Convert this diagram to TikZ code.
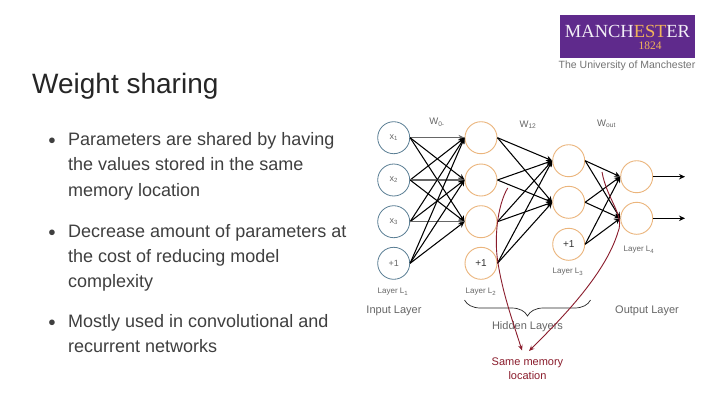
\documentclass[tikz,border=0pt]{standalone}
\usepackage{fontspec}
\setmainfont{Liberation Sans}
\newfontfamily\serifl{Liberation Serif}
\usetikzlibrary{arrows.meta,decorations.pathreplacing,calc}
\definecolor{bodyc}{HTML}{3F3F3F}
\definecolor{inc}{HTML}{5B7F95}
\definecolor{hidc}{HTML}{EBB57C}
\definecolor{redc}{HTML}{8A1C2C}
\definecolor{logoc}{HTML}{5F2A8C}
\definecolor{goldc}{HTML}{F0B45A}
\definecolor{labc}{HTML}{666666}
\tikzset{
 inn/.style={circle,draw=inc,line width=0.8pt,minimum size=32pt,inner sep=0pt,font=\fontsize{9}{10}\selectfont,text=labc},
 hid/.style={circle,draw=hidc,line width=0.9pt,minimum size=32pt,inner sep=0pt,font=\fontsize{10}{11}\selectfont,text=black!80},
 conn/.style={black,line width=1.05pt,-{Stealth[length=6pt,width=5.5pt]}},
 gconn/.style={black!60,line width=1.2pt,-{Stealth[length=6pt,width=5.5pt]}},
 bodytext/.style={anchor=base west,inner sep=0pt,text=bodyc,font=\fontsize{18}{21}\selectfont},
 bul/.style={anchor=base west,inner sep=0pt,text=bodyc,font=\fontsize{13}{16}\selectfont},
 smalllab/.style={inner sep=0pt,text=labc,font=\fontsize{8}{9}\selectfont},
 weightlab/.style={inner sep=0pt,text=labc,font=\fontsize{9.5}{10}\selectfont},
 layerlab/.style={inner sep=0pt,text=black!60,font=\fontsize{11}{13}\selectfont},
 redlab/.style={inner sep=0pt,text=redc,font=\fontsize{11}{13}\selectfont},
 redline/.style={redc,line width=0.9pt},
}
\newcommand{\sbs}[1]{\textsubscript{#1}}
\begin{document}
\begin{tikzpicture}[x=1pt,y=-1pt]
\useasboundingbox[fill=white] (0,0) rectangle (720,405);
% logo
\fill[logoc] (560,15) rectangle (695,58);
\node[inner sep=0pt,font=\serifl\fontsize{18.5}{19}\selectfont,text=white!92!logoc] (logoa) at (627.5,31) {MANCH\textcolor{goldc}{ES\kern-0.3pt T}ER};
\node[inner sep=0pt,font=\serifl\fontsize{11.5}{12}\selectfont,text=goldc] (logob) at (650,46) {1824};
\node[inner sep=0pt,text=black!55,font=\fontsize{10.5}{11}\selectfont] (logoc) at (627,65.5) {The University of Manchester};
% title
\node[anchor=base west,inner sep=0pt,text=black!85,font=\fontsize{28}{32}\selectfont] (title) at (32,93) {Weight sharing};
% body
\foreach \n/\xx/\yy/\t in {a/68/145/{Parameters are shared by having},b/68/170/{the values stored in the same},c/68/196/{memory location},d/68/237/{Decrease amount of parameters at},e/68/262/{the cost of reducing model},f/68/287/{complexity},g/68/327/{Mostly used in convolutional and},h/68/352/{recurrent networks}}
 \node[bodytext] (t\n) at (\xx,\yy) {\t};
\foreach \n/\yy in {1/144.5,2/236.5,3/326.5}
 \node[bul] (bul\n) at (48,\yy) {●};
% network
\node[inn] (i1) at (393.7,137.7) {x\sbs{1}};
\node[inn] (i2) at (393.7,180) {x\sbs{2}};
\node[inn] (i3) at (393.7,221.7) {x\sbs{3}};
\node[inn] (i4) at (393.7,263.3) {+1};
\node[hid] (h1) at (481,137.7) {};
\node[hid] (h2) at (481,180) {};
\node[hid] (h3) at (481,221.7) {};
\node[hid] (h4) at (481,263.3) {+1};
\node[hid] (k1) at (568.7,160.7) {};
\node[hid] (k2) at (568.7,202.3) {};
\node[hid] (k3) at (568.7,244.3) {+1};
\node[hid] (o1) at (636.7,176.7) {};
\node[hid] (o2) at (636.7,218.3) {};
\coordinate (e1) at (685,176.7);
\coordinate (e2) at (685,218.3);
\foreach \a in {1,2,3,4}\foreach \b in {1,2,3}{
 \pgfmathtruncatemacro{\same}{\a==\b?1:0}
 \ifnum\same=1 \draw[gconn] (i\a.east) -- (h\b.west);\else\draw[conn] (i\a.east) -- (h\b.west);\fi
}
\foreach \a in {1,2,3,4}\foreach \b in {1,2} \draw[conn] (h\a.east) -- (k\b.west);
\foreach \a in {1,2,3}\foreach \b in {1,2} \draw[conn] (k\a.east) -- (o\b.west);
\draw[conn,line width=1.3pt] (o1.east) -- (e1);
\draw[conn,line width=1.3pt] (o2.east) -- (e2);
% weights
\node[weightlab] (w0) at (437,122.5) {W\sbs{0-}};
\node[weightlab] (w1) at (528,124.5) {W\sbs{12}};
\node[weightlab] (w2) at (606.5,124) {W\sbs{out}};
% layer labels
\node[smalllab] (l1) at (393,291.7) {Layer L\sbs{1}};
\node[smalllab] (l2) at (481,291.7) {Layer L\sbs{2}};
\node[smalllab] (l3) at (568,272) {Layer L\sbs{3}};
\node[smalllab] (l4) at (639,250) {Layer L\sbs{4}};
\node[layerlab] (il) at (394,310.7) {Input Layer};
\node[layerlab] (ol) at (647,310.7) {Output Layer};
\node[layerlab] (hl) at (527.5,327) {Hidden Layers};
\coordinate (bl) at (464.5,300);
\coordinate (br) at (590.5,300);
\draw[decorate,decoration={brace,mirror,amplitude=16pt,aspect=0.5},black!85,line width=0.7pt] (bl) -- (br);
% red
\node[redlab] (rl1) at (527.5,363) {Same memory};
\node[redlab] (rl2) at (527.5,376) {location};
\coordinate (r1) at (507.7,188);
\coordinate (r2) at (602,172);
\coordinate (r1e) at (522,350.5);
\coordinate (r2e) at (529,351);
\draw[redline,-{Stealth[length=5.5pt,width=4.5pt]}] (r1) .. controls (497,206) and (494,240) .. (498,263) .. controls (503,295) and (514,325) .. (r1e);
\draw[redline,-{Stealth[length=5.5pt,width=4.5pt]}] (r2) .. controls (607,200) and (625,215) .. (618,232) .. controls (605,275) and (560,320) .. (r2e);
\end{tikzpicture}
\end{document}
